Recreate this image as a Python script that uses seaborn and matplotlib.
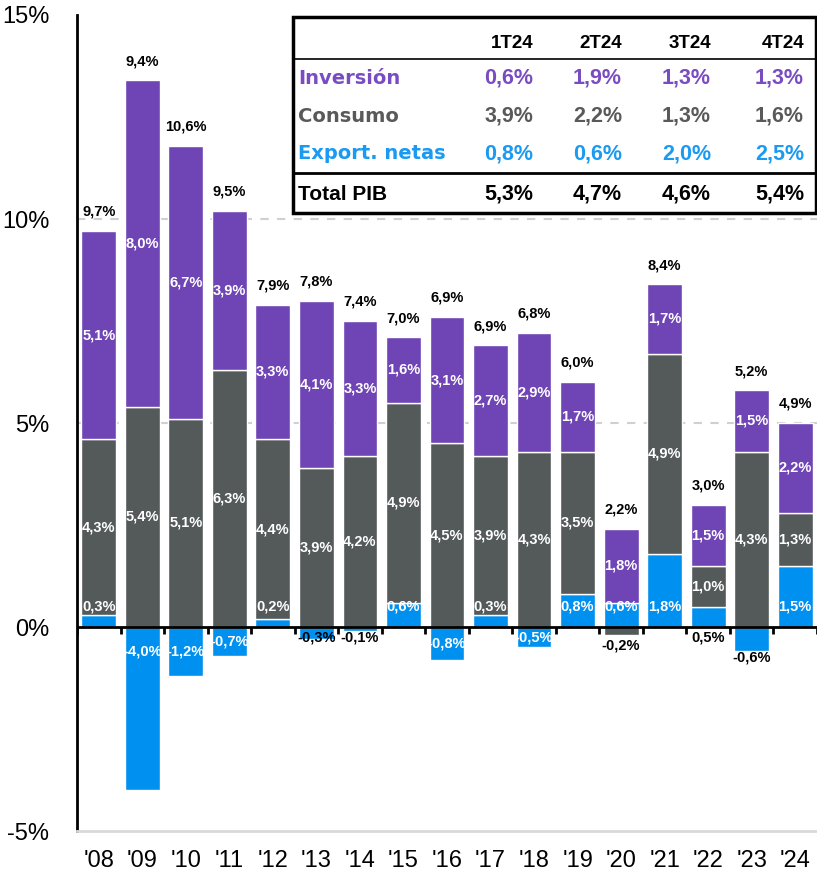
import numpy as np
import pandas as pd
import seaborn as sns
import matplotlib.pyplot as plt
from matplotlib.lines import Line2D
from matplotlib.patches import Rectangle

# Data
years = ["'08", "'09", "'10", "'11", "'12", "'13", "'14", "'15", "'16",
         "'17", "'18", "'19", "'20", "'21", "'22", "'23", "'24"]
export_netas = [0.3, -4.0, -1.2, -0.7, 0.2, -0.3, -0.1, 0.6, -0.8,
                0.3, -0.5, 0.8, 0.6, 1.8, 0.5, -0.6, 1.5]
consumo = [4.3, 5.4, 5.1, 6.3, 4.4, 3.9, 4.2, 4.9, 4.5,
           3.9, 4.3, 3.5, -0.2, 4.9, 1.0, 4.3, 1.3]
inversion = [5.1, 8.0, 6.7, 3.9, 3.3, 4.1, 3.3, 1.6, 3.1,
             2.7, 2.9, 1.7, 1.8, 1.7, 1.5, 1.5, 2.2]
total_pib = [9.7, 9.4, 10.6, 9.5, 7.9, 7.8, 7.4, 7.0, 6.9,
             6.9, 6.8, 6.0, 2.2, 8.4, 3.0, 5.2, 4.9]

# quarterly table
quarters = ["1T24", "2T24", "3T24", "4T24"]
q_inversion = ["0,6%", "1,9%", "1,3%", "1,3%"]
q_consumo = ["3,9%", "2,2%", "1,3%", "1,6%"]
q_export = ["0,8%", "0,6%", "2,0%", "2,5%"]
q_total = ["5,3%", "4,7%", "4,6%", "5,4%"]

PURPLE = "#6f44b5"
GRAY = "#54595a"
BLUE = "#0090f0"

plt.rcParams['font.family'] = ['Liberation Sans', 'DejaVu Sans']

W, H = 817, 875
fig = plt.figure(figsize=(W / 100, H / 100), dpi=100)
ax = fig.add_axes([77 / W, 44 / H, 740 / W, 816 / H])


def fmt(v):
    return f"{v:.1f}%".replace(".", ",")


# stacking: positives go up from zero, negatives go down
pos = np.zeros(len(years))
neg = np.zeros(len(years))
segments = []
for vals, col in [(export_netas, BLUE), (consumo, GRAY), (inversion, PURPLE)]:
    vals = np.array(vals)
    bottom = np.where(vals >= 0, pos, neg)
    sns.barplot(x=years, y=vals, bottom=bottom, color=col, width=0.8,
                edgecolor="white", linewidth=1, saturation=1, ax=ax)
    segments.append((vals, bottom))
    pos = pos + np.where(vals >= 0, vals, 0)
    neg = neg + np.where(vals < 0, vals, 0)

lab = dict(ha="center", va="center", fontsize=10.5, fontweight="bold")

# export labels
dark_export = {"'13", "'14", "'22", "'23"}
for i, (y, v) in enumerate(zip(years, export_netas)):
    if y in dark_export:
        yy = -0.25 if v > -0.5 else v - 0.15
        ax.text(i, yy, fmt(v), color="black", **lab)
    elif v >= 0:
        ax.text(i, 0.5, fmt(v), color="white", **lab)
    else:
        ax.text(i, max(v / 2, -0.6), fmt(v), color="white", **lab)

# consumo / inversion labels in the middle of each segment
for vals, bottom in segments[1:]:
    for i, (v, b) in enumerate(zip(vals, bottom)):
        if v < 0:
            ax.text(i, v - 0.25, fmt(v), color="black", **lab)
        else:
            ax.text(i, b + v / 2, fmt(v), color="white", **lab)

# totals above the stack
for i, t in enumerate(total_pib):
    ax.text(i, pos[i] + 0.3, fmt(t), ha="center", va="bottom",
            fontsize=10.5, fontweight="bold", color="black")

ax.set_ylim(-5, 15)
ax.set_xlim(-0.5, 16.5)
ax.set_yticks([-5, 0, 5, 10, 15])
ax.set_yticklabels(["-5%", "0%", "5%", "10%", "15%"])
ax.tick_params(axis="y", length=0, pad=20, labelsize=17)
ax.tick_params(axis="x", length=0, pad=14, labelsize=17)
ax.set_xlabel("")
ax.set_ylabel("")

for yv in [5, 10]:
    ax.axhline(yv, color="#d0d0d0", lw=1.5, ls=(0, (4, 4)), zorder=0)
ax.axhline(0, color="black", lw=2, zorder=3)
ax.vlines(np.arange(-0.5, 17, 1), -0.18, 0, color="black", lw=2, zorder=3)

for s in ["top", "right"]:
    ax.spines[s].set_visible(False)
ax.spines["left"].set_color("black")
ax.spines["left"].set_linewidth(2)
ax.spines["bottom"].set_color("#d9d9d9")
ax.spines["bottom"].set_linewidth(2)


# table in the upper right, placed in figure pixels
def fx(px):
    return px / W


def fy(py):
    return 1 - py / H


fig.add_artist(Rectangle((fx(293), fy(213)), fx(816) - fx(293), fy(17) - fy(213),
                         transform=fig.transFigure, facecolor="white",
                         edgecolor="black", lw=2.5, zorder=5))
fig.add_artist(Line2D([fx(293), fx(816)], [fy(59), fy(59)],
                      transform=fig.transFigure, color="black", lw=1.2, zorder=6))
fig.add_artist(Line2D([fx(293), fx(816)], [fy(173), fy(173)],
                      transform=fig.transFigure, color="black", lw=2, zorder=6))

col_right = [533, 622, 711, 804]
rows = [
    (44, None, quarters, "black", 13.5),
    (78, "Inversión", q_inversion, "#7a4cc2", 15.5),
    (116, "Consumo", q_consumo, "#595959", 15.5),
    (154, "Export. netas", q_export, "#1a9af0", 15.5),
    (194, "Total PIB", q_total, "black", 15.5),
]
for ypx, name, vals, col, fs in rows:
    if name:
        # the row names are spaced out; DejaVu bold gives that width
        fam = ['Liberation Sans'] if name == "Total PIB" else ['DejaVu Sans']
        fig.text(fx(298), fy(ypx), name, ha="left", va="center", color=col,
                 fontsize=15 if name == "Total PIB" else 14, family=fam,
                 fontweight="bold", zorder=7)
    for xr, v in zip(col_right, vals):
        fig.text(fx(xr), fy(ypx), v, ha="right", va="center", color=col,
                 fontsize=fs, fontweight="bold", zorder=7)

fig.savefig("out.png", dpi=100)
